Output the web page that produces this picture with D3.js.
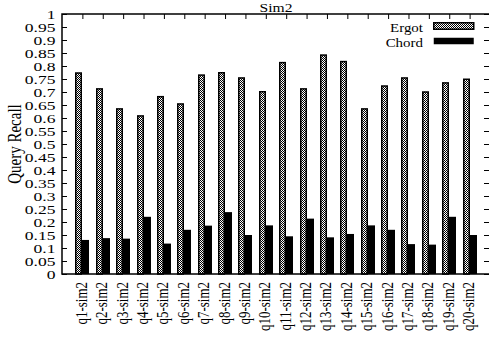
<!DOCTYPE html>
<html>
<head>
<meta charset="utf-8">
<script src="https://cdn.jsdelivr.net/npm/d3@7/dist/d3.min.js"></script>
<style>
  body { margin: 0; background: #fff; }
  svg text { font-family: "Liberation Serif", "DejaVu Serif", serif; fill: #000; }
</style>
</head>
<body>
<div id="chart"></div>
<script>
// data
const queries = ["q1-sim2", "q2-sim2", "q3-sim2", "q4-sim2", "q5-sim2", "q6-sim2", "q7-sim2",
    "q8-sim2", "q9-sim2", "q10-sim2", "q11-sim2", "q12-sim2", "q13-sim2", "q14-sim2",
    "q15-sim2", "q16-sim2", "q17-sim2", "q18-sim2", "q19-sim2", "q20-sim2"];
const ergot = [0.773, 0.712, 0.635, 0.608, 0.682, 0.654, 0.765, 0.774, 0.754, 0.701,
    0.813, 0.712, 0.842, 0.817, 0.635, 0.723, 0.754, 0.700, 0.735, 0.749];
const chord = [0.131, 0.138, 0.136, 0.220, 0.117, 0.170, 0.186, 0.238, 0.150, 0.187,
    0.145, 0.213, 0.141, 0.154, 0.187, 0.170, 0.115, 0.113, 0.220, 0.150];
const yTicks = d3.range(0, 1.0001, 0.05).map(v => +v.toFixed(2));

const width = 489, height = 342;
const mLeft = 62, mRight = 490, mTop = 14, mBottom = 274;
const barW = 7;
const stretch = 1.35; // the original text is drawn wide

const svg = d3.select("#chart").append("svg")
    .attr("width", width)
    .attr("height", height);

// checker fill for the Ergot bars
const pat = svg.append("defs").append("pattern")
    .attr("id", "checker")
    .attr("patternUnits", "userSpaceOnUse")
    .attr("width", 2).attr("height", 2);
pat.append("rect").attr("width", 2).attr("height", 2).attr("fill", "#fff");
pat.append("rect").attr("width", 1).attr("height", 1).attr("fill", "#000");
pat.append("rect").attr("x", 1).attr("y", 1).attr("width", 1).attr("height", 1).attr("fill", "#000");

const x = d3.scaleLinear().domain([-1, queries.length]).range([mLeft, mRight]);
const y = d3.scaleLinear().domain([0, 1]).range([mBottom, mTop]);

// bars
svg.selectAll(".ergot")
    .data(ergot)
    .enter()
    .append("rect")
    .attr("class", "ergot")
    .attr("x", (d, i) => Math.round(x(i)) - barW + 0.75)
    .attr("y", d => y(d))
    .attr("width", barW - 1.5)
    .attr("height", d => mBottom - y(d))
    .attr("fill", "url(#checker)")
    .attr("stroke", "#000")
    .attr("stroke-width", 1.5);

svg.selectAll(".chord")
    .data(chord)
    .enter()
    .append("rect")
    .attr("class", "chord")
    .attr("x", (d, i) => Math.round(x(i)))
    .attr("y", d => y(d))
    .attr("width", barW)
    .attr("height", d => mBottom - y(d))
    .attr("fill", "#000");

// y ticks, left and mirrored right
const yAxisL = d3.axisLeft(y).tickValues(yTicks).tickSizeInner(-5).tickSizeOuter(0)
    .tickFormat(d => d3.format("")(d));
const gy = svg.append("g").attr("transform", `translate(${mLeft},0)`).call(yAxisL);
gy.select(".domain").remove();
gy.attr("font-family", null);
gy.selectAll("text")
    .style("font-size", "13px")
    .attr("x", -6.5 / stretch)
    .attr("transform", `scale(${stretch},1)`);

const gyR = svg.append("g").attr("transform", `translate(${mRight - 1},0)`)
    .call(d3.axisRight(y).tickValues(yTicks).tickSizeInner(-5).tickSizeOuter(0).tickFormat(""));
gyR.select(".domain").remove();

// x ticks on top
const gxT = svg.append("g").attr("transform", `translate(0,${mTop})`)
    .call(d3.axisTop(x).tickValues(d3.range(queries.length)).tickSizeInner(-5).tickSizeOuter(0).tickFormat(""));
gxT.select(".domain").remove();

// x labels, rotated
svg.selectAll(".xlabel")
    .data(queries)
    .enter()
    .append("text")
    .attr("class", "xlabel")
    .attr("transform", (d, i) => `translate(${x(i) + 4.5},${mBottom + 8}) rotate(-90) scale(1,1.3)`)
    .attr("text-anchor", "end")
    .style("font-size", "13px")
    .text(d => d);

// border
svg.append("path")
    .attr("d", `M${mRight},${mTop}H${mLeft}V${mBottom}H${mRight}`)
    .attr("fill", "none")
    .attr("stroke", "#000")
    .attr("stroke-width", 1.5);

// title and axis label
svg.append("text")
    .attr("transform", `translate(${(mLeft + mRight) / 2},12) scale(1.2,1)`)
    .attr("text-anchor", "middle")
    .style("font-size", "13px")
    .text("Sim2");

svg.append("text")
    .attr("transform", `translate(21,${(mTop + mBottom) / 2}) rotate(-90) scale(1,1.3)`)
    .attr("text-anchor", "middle")
    .style("font-size", "15px")
    .text("Query Recall");

// legend
const legend = [
    { name: "Ergot", fill: "url(#checker)", stroke: "#000" },
    { name: "Chord", fill: "#000", stroke: "none" }
];
const lg = svg.selectAll(".legend")
    .data(legend)
    .enter()
    .append("g")
    .attr("transform", (d, i) => `translate(0,${26 + i * 15})`);
lg.append("text")
    .attr("transform", "translate(423,6) scale(1.15,1)")
    .attr("text-anchor", "end")
    .style("font-size", "13px")
    .text(d => d.name);
lg.append("rect")
    .attr("x", 433.75)
    .attr("y", -3.25)
    .attr("width", 40)
    .attr("height", 6.5)
    .attr("fill", d => d.fill)
    .attr("stroke", d => d.stroke)
    .attr("stroke-width", 1.5);
</script>
</body>
</html>
